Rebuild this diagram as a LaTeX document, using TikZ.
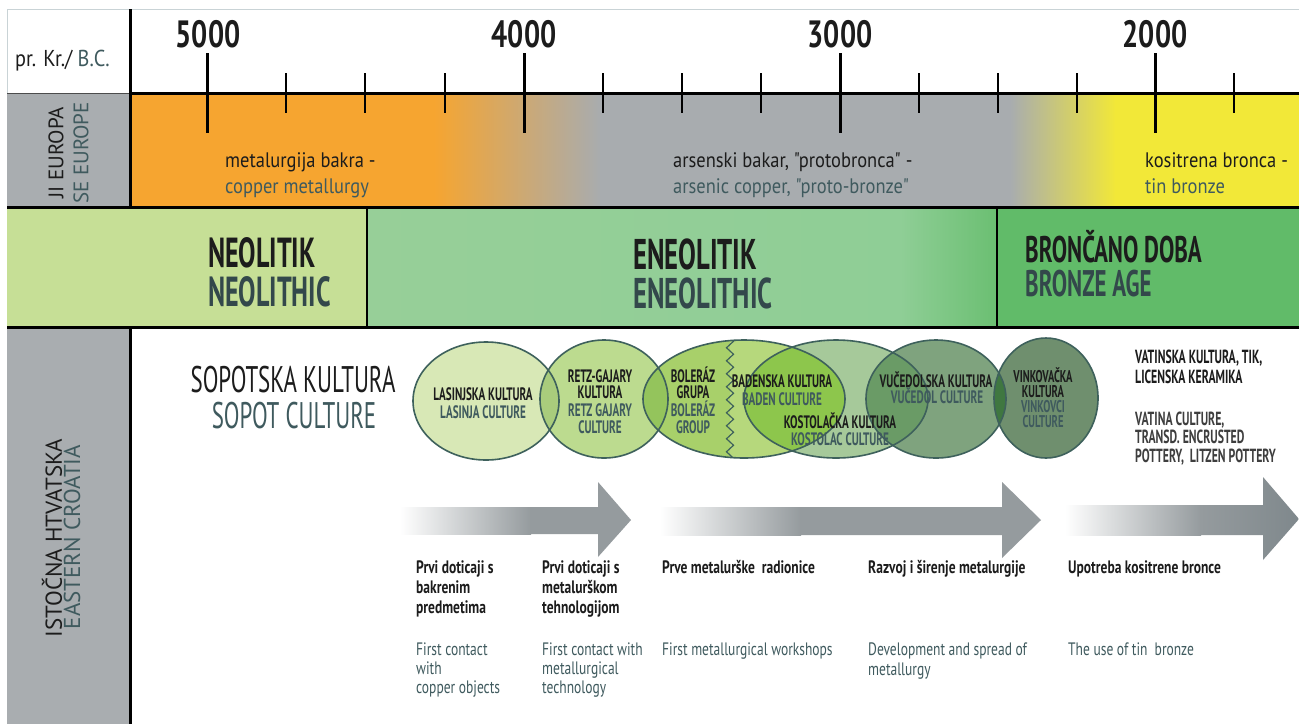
\documentclass[tikz,border=0pt]{standalone}
\usepackage{fontspec}
\setmainfont{PT Sans}
\newfontfamily\fA{PT Sans}[FakeStretch=0.75]
\newfontfamily\fB{PT Sans}[FakeStretch=0.88]
\newfontfamily\fN{PT Sans}[FakeStretch=0.62]
\newfontfamily\fP{PT Sans}
\usetikzlibrary{decorations.pathmorphing}
\definecolor{ink}{HTML}{1C1C1C}
\definecolor{tealg}{HTML}{3F5A5E}
\definecolor{orng}{HTML}{F6A530}
\definecolor{bandgrey}{HTML}{A8ACAF}
\definecolor{yel}{HTML}{F2E838}
\definecolor{leftgrey}{HTML}{A9ADB0}
\definecolor{neo}{HTML}{C6DF96}
\definecolor{eneoA}{HTML}{97CF98}
\definecolor{eneoB}{HTML}{8FCE96}
\definecolor{eneoC}{HTML}{6BBF72}
\definecolor{bron}{HTML}{61BB69}
\definecolor{arr}{HTML}{959B9E}
\definecolor{arrd}{HTML}{7F888C}
\definecolor{edgec}{HTML}{3E615C}
\definecolor{cLas}{HTML}{D8E8B6}
\definecolor{cRetz}{HTML}{BCDB8F}
\definecolor{cBad}{HTML}{B6D87C}
\definecolor{cBol}{HTML}{A8D06A}
\definecolor{cKos}{HTML}{A6C99A}
\definecolor{cVuc}{HTML}{7FA37E}
\definecolor{cVin}{HTML}{6F8F6E}
\definecolor{oLR}{HTML}{A9CC7C}
\definecolor{oRB}{HTML}{94C45C}
\definecolor{oBK}{HTML}{8DC64C}
\definecolor{oKV}{HTML}{6A9B66}
\definecolor{oVV}{HTML}{3F7740}
\definecolor{topline}{HTML}{C9D3D6}
\definecolor{perteal}{HTML}{33484B}
\newcommand\fsz[1]{\fontsize{#1pt}{#1pt}\selectfont}
\tikzset{
  axisline/.style={line width=3pt, black},
  majortick/.style={line width=3pt, black},
  minortick/.style={line width=2pt, black},
  yearlbl/.style={anchor=base, inner sep=0pt, font=\fA\bfseries\fsz{38}, text=ink},
  bandtxt/.style={anchor=base west, inner sep=0pt, font=\fB\fsz{21}, align=left},
  periodtxt/.style={anchor=base west, inner sep=0pt, font=\fN\bfseries\fsz{42}},
  elltxt/.style={inner sep=0pt, font=\fN\bfseries\fsz{18}, align=center},
  bottxt/.style={anchor=base west, inner sep=0pt, font=\fA\fsz{18}, align=left},
  botcro/.style={anchor=base west, inner sep=0pt, font=\fA\bfseries\fsz{18}, align=left},
  rottxt/.style={inner sep=0pt, rotate=90, font=\fP\fsz{21}},
  ellline/.style={draw=edgec, line width=1.6pt},
}
\def\Elas{(486,401) ellipse [x radius=73pt, y radius=59pt]}
\def\Eretz{(604,399) ellipse [x radius=64pt, y radius=59pt]}
\def\Ebad{(744,399) ellipse [x radius=101pt, y radius=59pt]}
\def\Ekos{(836,399) ellipse [x radius=92pt, y radius=59pt]}
\def\Evuc{(936,399) ellipse [x radius=70pt, y radius=59pt]}
\def\Evin{(1046,398) ellipse [x radius=52pt, y radius=60pt]}
\begin{document}
\begin{tikzpicture}[x=1pt,y=-1pt]
\useasboundingbox (0,0) rectangle (1299,724);
\fill[white] (0,0) rectangle (1299,724);
% ---- row 2 band (SE Europe)
\fill[orng] (130,93) rectangle (435,207);
\shade[left color=orng, right color=bandgrey] (434,93) rectangle (601,207);
\fill[bandgrey] (600,93) rectangle (1011,207);
\shade[left color=bandgrey, right color=yel] (1010,93) rectangle (1116,207);
\fill[yel] (1115,93) rectangle (1299,207);
\fill[leftgrey] (7,93) rectangle (130,207);
% ---- row 3 periods
\fill[neo] (7,207) rectangle (367,327);
\shade[left color=eneoA, right color=eneoB] (367,207) rectangle (901,327);
\shade[left color=eneoB, right color=eneoC] (900,207) rectangle (997,327);
\fill[bron] (997,207) rectangle (1299,327);
% ---- row 4 left cell
\fill[leftgrey] (7,327) rectangle (130,724);
% ---- frame lines
\draw[topline, line width=1pt] (7,9) -- (1299,9);
\draw[topline, line width=1pt] (7,9) -- (7,93);
\draw[axisline] (130,93) -- (1299,93);
\draw[line width=1pt, black!70] (7,93) -- (130,93);
\draw[line width=3pt] (130,9) -- (130,207);
\draw[line width=3pt] (130,327) -- (130,724);
\draw[line width=3pt] (7,207) -- (1299,207);
\draw[line width=3pt] (7,327) -- (1299,327);
\draw[line width=2pt] (367,207) -- (367,327);
\draw[line width=2pt] (997,207) -- (997,327);
% ---- ticks
\foreach \x in {207,524,840,1155} \draw[majortick] (\x,53) -- (\x,133);
\foreach \x in {286,365,445,603,682,761,919,998,1077,1234} \draw[minortick] (\x,73) -- (\x,113);
\node[yearlbl] (y5000) at (208,47) {5000};
\node[yearlbl] (y4000) at (524,47) {4000};
\node[yearlbl] (y3000) at (840,47) {3000};
\node[yearlbl] (y2000) at (1155,47) {2000};
\node[anchor=base west, inner sep=0pt, font=\fB\fsz{23}] (bc) at (15,66) {\textcolor{ink}{pr. Kr./} \textcolor{tealg}{B.C.}};
% ---- left labels
\node[rottxt, text=ink] (jie) at (56,153) {JI EUROPA};
\node[rottxt, text=tealg] (see) at (81,153) {SE EUROPE};
\node[rottxt, text=ink, font=\fP\fsz{23}] (ih) at (52,538) {ISTOČNA HTVATSKA};
\node[rottxt, text=tealg, font=\fP\fsz{23}] (ec) at (72,537) {EASTERN CROATIA};
% ---- band texts
\node[bandtxt, text=ink] (cu1) at (225,167) {metalurgija bakra -};
\node[bandtxt, text=tealg] (cu2) at (225,193) {copper metallurgy};
\node[bandtxt, text=ink] (as1) at (673,167) {arsenski bakar, "protobronca" -};
\node[bandtxt, text=tealg] (as2) at (673,193) {arsenic copper, "proto-bronze"};
\node[bandtxt, text=ink] (sn1) at (1145,167) {kositrena bronca -};
\node[bandtxt, text=tealg] (sn2) at (1145,193) {tin bronze};
% ---- periods
\node[periodtxt, text=ink] (neo1) at (208,267) {NEOLITIK};
\node[periodtxt, text=perteal] (neo2) at (208,306) {NEOLITHIC};
\node[periodtxt, text=ink, font=\fN\bfseries\fsz{43}] (en1) at (633,269) {ENEOLITIK};
\node[periodtxt, text=perteal, font=\fN\bfseries\fsz{43}] (en2) at (633,308) {ENEOLITHIC};
\node[periodtxt, text=ink, font=\fN\bfseries\fsz{37}] (br1) at (1025,262) {BRONČANO DOBA};
\node[periodtxt, text=perteal, font=\fN\bfseries\fsz{37}] (br2) at (1025,296) {BRONZE AGE};
% ---- Sopot
\node[anchor=base, inner sep=0pt, font=\fN\fsz{37}, text=ink] (sop1) at (293,392) {SOPOTSKA KULTURA};
\node[anchor=base, inner sep=0pt, font=\fN\fsz{37}, text=tealg] (sop2) at (294,428) {SOPOT CULTURE};
% ---- ellipses
\fill[cLas] \Elas;
\fill[cRetz] \Eretz;
\fill[cBad] \Ebad;
\fill[cKos] \Ekos;
\fill[cVuc] \Evuc;
\fill[cVin] \Evin;
\begin{scope} \clip \Ebad; \fill[cBol] (630,330) rectangle (730,470); \end{scope}
\begin{scope} \clip \Elas; \fill[oLR] \Eretz; \end{scope}
\begin{scope} \clip \Eretz; \fill[oRB] \Ebad; \end{scope}
\begin{scope} \clip \Ebad; \fill[oBK] \Ekos; \end{scope}
\begin{scope} \clip \Ekos; \fill[oKV] \Evuc; \end{scope}
\begin{scope} \clip \Evuc; \fill[oVV] \Evin; \end{scope}
\draw[ellline] \Elas;
\draw[ellline] \Eretz;
\draw[ellline] \Ebad;
\draw[ellline] \Ekos;
\draw[ellline] \Evuc;
\draw[ellline] \Evin;
\begin{scope} \clip \Ebad;
\draw[edgec, line width=1.2pt, decorate, decoration={zigzag, amplitude=3.5pt, segment length=13pt}] (730,338) -- (730,462);
\end{scope}
% ellipse texts
\node[elltxt, anchor=base, text=ink] (las1) at (483,400) {LASINJSKA KULTURA};
\node[elltxt, anchor=base, text=tealg] (las2) at (483,418) {LASINJA CULTURE};
\node[elltxt, anchor=base, text=ink] (rg1) at (600,382) {RETZ-GAJARY};
\node[elltxt, anchor=base, text=ink] (rg2) at (600,398) {KULTURA};
\node[elltxt, anchor=base, text=tealg] (rg3) at (600,416) {RETZ GAJARY};
\node[elltxt, anchor=base, text=tealg] (rg4) at (600,433) {CULTURE};
\node[elltxt, anchor=base, text=ink] (bo1) at (693,382) {BOLERÁZ};
\node[elltxt, anchor=base, text=ink] (bo2) at (693,398) {GRUPA};
\node[elltxt, anchor=base, text=tealg] (bo3) at (693,416) {BOLERÁZ};
\node[elltxt, anchor=base, text=tealg] (bo4) at (693,433) {GROUP};
\node[elltxt, anchor=base, text=ink] (ba1) at (782,387) {BADENSKA KULTURA};
\node[elltxt, anchor=base, text=tealg] (ba2) at (782,405) {BADEN CULTURE};
\node[elltxt, anchor=base, text=ink] (ko1) at (840,428) {KOSTOLAČKA KULTURA};
\node[elltxt, anchor=base, text=tealg] (ko2) at (840,445) {KOSTOLAC CULTURE};
\node[elltxt, anchor=base, text=ink] (vu1) at (936,387) {VUČEDOLSKA KULTURA};
\node[elltxt, anchor=base, text=tealg] (vu2) at (937,403) {VUČEDOL CULTURE};
\node[elltxt, anchor=base, text=ink, font=\fN\bfseries\fsz{17}] (vi1) at (1043,382) {VINKOVAČKA};
\node[elltxt, anchor=base, text=ink, font=\fN\bfseries\fsz{17}] (vi2) at (1043,397) {KULTURA};
\node[elltxt, anchor=base, text=tealg, font=\fN\bfseries\fsz{17}] (vi3) at (1043,412) {VINKOVCI};
\node[elltxt, anchor=base, text=tealg, font=\fN\bfseries\fsz{17}] (vi4) at (1043,427) {CULTURE};
% right text
\node[anchor=base west, inner sep=0pt, font=\fN\bfseries\fsz{19}, text=ink, align=left] (vat1) at (1135,363) {VATINSKA KULTURA, TIK,};
\node[anchor=base west, inner sep=0pt, font=\fN\bfseries\fsz{19}, text=ink] (vat2) at (1135,383) {LICENSKA KERAMIKA};
\node[anchor=base west, inner sep=0pt, font=\fN\bfseries\fsz{19}, text=ink!85] (vat3) at (1135,425) {VATINA CULTURE,};
\node[anchor=base west, inner sep=0pt, font=\fN\bfseries\fsz{19}, text=ink!85] (vat4) at (1135,443) {TRANSD. ENCRUSTED};
\node[anchor=base west, inner sep=0pt, font=\fN\bfseries\fsz{19}, text=ink!85] (vat5) at (1135,462) {POTTERY,\ \ LITZEN POTTERY};
% ---- arrows
\shade[left color=white, right color=arr] (400,507) rectangle (531,534);
\fill[arr] (530,507) -- (598,507) -- (598,482) -- (631,520) -- (598,557) -- (598,534) -- (530,534) -- cycle;
\shade[left color=white, right color=arr] (660,507) rectangle (801,535);
\fill[arr] (800,507) -- (1002,507) -- (1002,482) -- (1041,520) -- (1002,558) -- (1002,535) -- (800,535) -- cycle;
\shade[left color=white, right color=arr] (1065,505) rectangle (1201,535);
\shade[left color=arr, right color=arrd] (1200,505) -- (1263,505) -- (1263,477) -- (1299,519) -- (1263,560) -- (1263,535) -- (1200,535) -- cycle;
% ---- bottom texts
\node[botcro, text=ink] (p1a) at (416,573) {Prvi doticaji s};
\node[botcro, text=ink] (p1b) at (416,593) {bakrenim};
\node[botcro, text=ink] (p1c) at (416,613) {predmetima};
\node[bottxt, text=tealg] (e1a) at (416,655) {First contact};
\node[bottxt, text=tealg] (e1b) at (416,674) {with};
\node[bottxt, text=tealg] (e1c) at (416,693) {copper objects};
\node[botcro, text=ink] (p2a) at (542,573) {Prvi doticaji s};
\node[botcro, text=ink] (p2b) at (542,593) {metalurškom};
\node[botcro, text=ink] (p2c) at (542,613) {tehnologijom};
\node[bottxt, text=tealg] (e2a) at (542,655) {First contact with};
\node[bottxt, text=tealg] (e2b) at (542,674) {metallurgical};
\node[bottxt, text=tealg] (e2c) at (542,693) {technology};
\node[botcro, text=ink] (p3a) at (662,573) {Prve metalurške\ \ radionice};
\node[bottxt, text=tealg] (e3a) at (662,655) {First metallurgical workshops};
\node[botcro, text=ink] (p4a) at (868,573) {Razvoj i širenje metalurgije};
\node[bottxt, text=tealg] (e4a) at (868,655) {Development and spread of};
\node[bottxt, text=tealg] (e4b) at (868,675) {metallurgy};
\node[botcro, text=ink] (p5a) at (1068,573) {Upotreba kositrene bronce};
\node[bottxt, text=tealg] (e5a) at (1068,655) {The use of tin\ \ bronze};
\end{tikzpicture}
\end{document}
